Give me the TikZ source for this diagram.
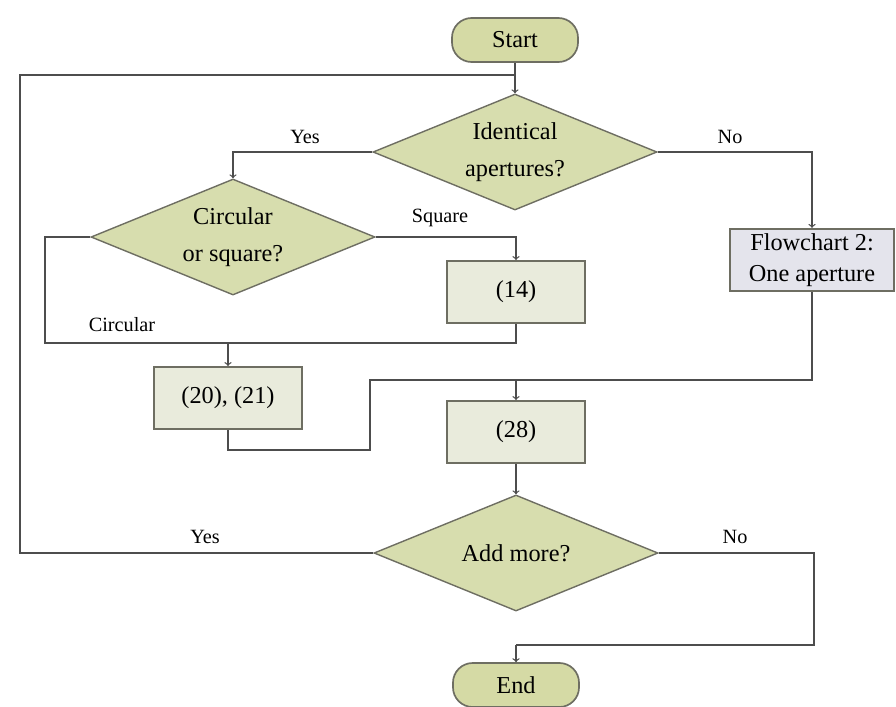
\documentclass[tikz,border=0pt]{standalone}
\usepackage{fontspec}
\setmainfont{Liberation Serif}
\usepackage{xcolor}
\usetikzlibrary{shapes.geometric}
\definecolor{decfill}{HTML}{D7DDAE}
\definecolor{termfill}{HTML}{D5DAA5}
\definecolor{procfill}{HTML}{E9EBDC}
\definecolor{fcfill}{HTML}{E4E4EC}
\definecolor{edge}{HTML}{6E6E62}
\definecolor{wire}{HTML}{4D4D4D}

\begin{document}
\begin{tikzpicture}[x=0.025cm,y=-0.025cm,font=\Large,
	term/.style={draw=edge,fill=termfill,line width=1.2pt,rounded corners=14pt,minimum width=3.15cm,minimum height=1.1cm,font=\LARGE},
	decision/.style={diamond,aspect=2.5,draw=edge,fill=decfill,line width=1pt,inner sep=0pt,align=center,minimum width=7.1cm,minimum height=2.9cm,font=\LARGE},
	proc/.style={draw=edge,fill=procfill,line width=1.4pt,minimum width=3.45cm,minimum height=1.55cm,align=center,font=\LARGE},
	flow/.style={draw=wire,line width=0.9pt}]
	\useasboundingbox (0,0) rectangle (896,706);

	\node[term] (start) at (515,40) {Start};
	\node[decision] (ident) at (515,152) {Identical\\[4pt]apertures?};
	\node[decision] (shape) at (233,237) {Circular\\[4pt]or square?};
	\node[proc] (sq) at (516,292) {(14)};
	\node[proc,fill=fcfill,minimum width=4.1cm] (fc2) at (812,260) {Flowchart 2:\\One aperture};
	\node[proc,minimum width=3.7cm] (circ) at (228,398) {(20), (21)};
	\node[proc] (final) at (516,432) {(28)};
	\node[decision] (more) at (516,553) {Add more?};
	\node[term] (end) at (516,685) {End};

	\coordinate (loop) at (515,75);
	\coordinate (cj) at (228,343);
	\coordinate (mj) at (516,380);
	\coordinate (ej) at (516,645);

	\draw[flow,->] (start) -- (ident);
	\draw[flow,->] (ident.west) -| (shape.north);
	\draw[flow,->] (ident.east) -| (fc2.north);
	\draw[flow,->] (shape.east) -| (sq.north);
	\draw[flow] (shape.west) -| (45,343) -- (cj);
	\draw[flow] (sq.south) |- (cj);
	\draw[flow,->] (cj) -- (circ);
	\draw[flow] (circ.south) |- (370,450) |- (mj);
	\draw[flow] (fc2.south) |- (mj);
	\draw[flow,->] (mj) -- (final);
	\draw[flow,->] (final) -- (more);
	\draw[flow] (more.west) -| (20,75) -- (loop);
	\draw[flow] (more.east) -| (814,645) -- (ej);
	\draw[flow,->] (ej) -- (end);

	\node (yes1) at (305,137) {Yes};
	\node (no1) at (730,137) {No};
	\node (sqlbl) at (440,218) {Square};
	\node (circlbl) at (122,325) {Circular};
	\node (yes2) at (205,537) {Yes};
	\node (no2) at (735,537) {No};
\end{tikzpicture}
\end{document}
